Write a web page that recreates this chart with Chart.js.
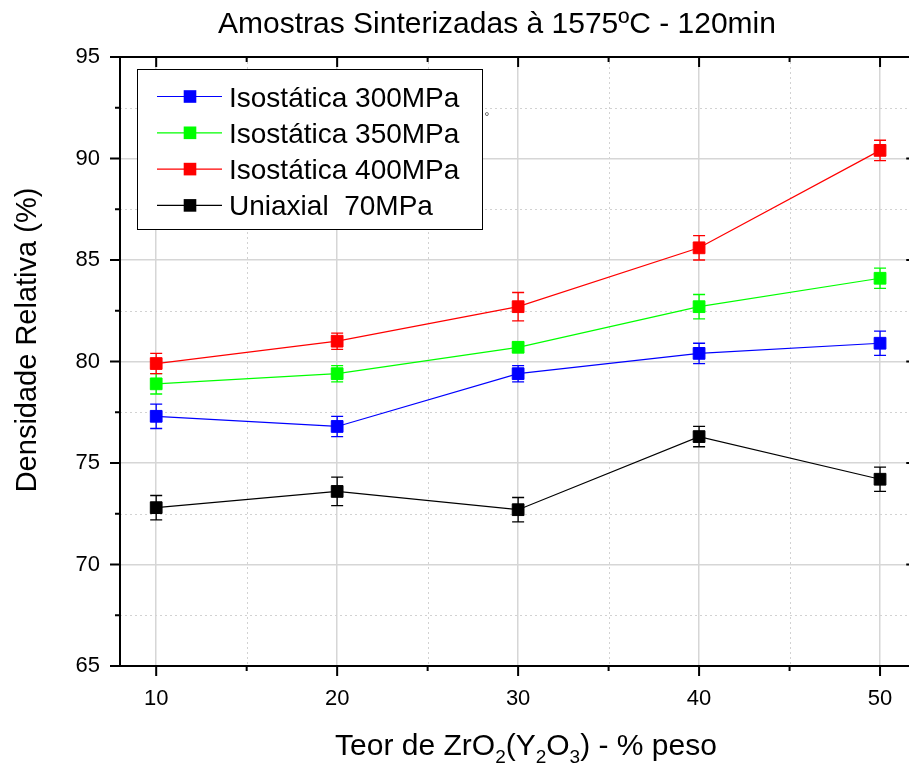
<!DOCTYPE html>
<html>
<head>
<meta charset="utf-8">
<script src="https://cdn.jsdelivr.net/npm/chart.js@4/dist/chart.umd.min.js"></script>
<style>
  html, body { margin: 0; padding: 0; background: #fff; overflow: hidden; }
  #c { display: block; }
</style>
</head>
<body>
<canvas id="c" width="909" height="765"></canvas>
<script>
// ZrO2(Y2O3) content, % weight
const categories = [10, 20, 30, 40, 50];

// Relative density (%) and its error for each pressing route
const iso300 = [77.3, 76.8, 79.4, 80.4, 80.9];
const iso300Err = [0.6, 0.5, 0.4, 0.5, 0.6];
const iso350 = [78.9, 79.4, 80.7, 82.7, 84.1];
const iso350Err = [0.5, 0.4, 0.25, 0.6, 0.5];
const iso400 = [79.9, 81.0, 82.7, 85.6, 90.4];
const iso400Err = [0.5, 0.4, 0.7, 0.6, 0.5];
const uni70 = [72.8, 73.6, 72.7, 76.3, 74.2];
const uni70Err = [0.6, 0.7, 0.6, 0.5, 0.6];

const seriesLabels = ['Isostática 300MPa', 'Isostática 350MPa', 'Isostática 400MPa', 'Uniaxial  70MPa'];
const seriesColors = ['#0000ff', '#00ff00', '#ff0000', '#000000'];

// Tick positions (major every 10 / 5, minor halfway)
const xTickValues = [10, 15, 20, 25, 30, 35, 40, 45, 50];
const yTickValues = [65, 67.5, 70, 72.5, 75, 77.5, 80, 82.5, 85, 87.5, 90, 92.5, 95];

// visible x window; the frame's right side sits at 52, just past the edge
const xMin = 8, xMax = 51.6, xFrameRight = 52;

const chartTitle = 'Amostras Sinterizadas à 1575ºC - 120min';
const yTitle = 'Densidade Relativa (%)';

const FONT = '"Liberation Sans", Arial, Helvetica, sans-serif';
const isMajorX = v => v % 10 === 0;
const isMajorY = v => v % 5 === 0;

function makeSet(label, color, vals, errs) {
  return {
    label,
    data: categories.map((c, i) => ({ x: c, y: vals[i] })),
    errors: errs,
    borderColor: color,
    backgroundColor: color,
    borderWidth: 1.2,
    pointStyle: 'rect',
    pointRadius: 8.3,
    pointBorderWidth: 1,
    pointBorderColor: color,
    pointBackgroundColor: color,
    pointHoverRadius: 8.3,
    tension: 0
  };
}

const datasets = [
  makeSet(seriesLabels[0], seriesColors[0], iso300, iso300Err),
  makeSet(seriesLabels[1], seriesColors[1], iso350, iso350Err),
  makeSet(seriesLabels[2], seriesColors[2], iso400, iso400Err),
  makeSet(seriesLabels[3], seriesColors[3], uni70, uni70Err)
];

// Minor dotted grid and error bars, drawn under the markers
const underlay = {
  id: 'underlay',
  beforeDatasetsDraw(chart) {
    const { ctx, chartArea: a, scales: { x, y } } = chart;
    ctx.save();
    ctx.beginPath();
    ctx.rect(a.left, a.top, a.width, a.height);
    ctx.clip();
    ctx.strokeStyle = '#d2d2d2';
    ctx.lineWidth = 1;
    ctx.setLineDash([2, 3]);
    xTickValues.filter(v => !isMajorX(v)).forEach(v => {
      const p = Math.round(x.getPixelForValue(v)) + 0.5;
      ctx.beginPath(); ctx.moveTo(p, a.top); ctx.lineTo(p, a.bottom); ctx.stroke();
    });
    yTickValues.filter(v => !isMajorY(v)).forEach(v => {
      const p = Math.round(y.getPixelForValue(v)) + 0.5;
      ctx.beginPath(); ctx.moveTo(a.left, p); ctx.lineTo(a.right, p); ctx.stroke();
    });
    ctx.setLineDash([]);
    ctx.restore();

    // error bars
    ctx.save();
    chart.data.datasets.forEach(ds => {
      ctx.strokeStyle = ds.borderColor;
      ctx.lineWidth = 1.3;
      ds.data.forEach((pt, j) => {
        const e = ds.errors[j];
        const px = x.getPixelForValue(pt.x);
        const top = y.getPixelForValue(pt.y + e);
        const bot = y.getPixelForValue(pt.y - e);
        const cap = 6;
        ctx.beginPath();
        ctx.moveTo(px, top); ctx.lineTo(px, bot);
        ctx.moveTo(px - cap, top); ctx.lineTo(px + cap, top);
        ctx.moveTo(px - cap, bot); ctx.lineTo(px + cap, bot);
        ctx.stroke();
      });
    });
    ctx.restore();
  }
};

// Frame, tick marks, legend box and text labels
const overlay = {
  id: 'overlay',
  afterDraw(chart) {
    const { ctx, chartArea: a, scales: { x, y } } = chart;
    const right = x.getPixelForValue(xFrameRight);
    ctx.save();
    ctx.strokeStyle = '#000';
    ctx.lineWidth = 2;
    ctx.beginPath();
    ctx.moveTo(a.left, a.top); ctx.lineTo(right, a.top);
    ctx.lineTo(right, a.bottom); ctx.lineTo(a.left, a.bottom); ctx.closePath();
    ctx.stroke();

    ctx.lineWidth = 2;
    xTickValues.forEach(v => {
      const p = x.getPixelForValue(v);
      const len = isMajorX(v) ? 10 : 5;
      ctx.beginPath();
      ctx.moveTo(p, a.bottom); ctx.lineTo(p, a.bottom + len);
      ctx.moveTo(p, a.top); ctx.lineTo(p, a.top + len);
      ctx.stroke();
    });
    yTickValues.forEach(v => {
      const p = y.getPixelForValue(v);
      const len = isMajorY(v) ? 10 : 5;
      ctx.beginPath();
      ctx.moveTo(a.left, p); ctx.lineTo(a.left - len, p);
      ctx.moveTo(right, p); ctx.lineTo(right - len, p);
      ctx.stroke();
    });

    // legend
    const lx = 137.5, ly = 69.5, lw = 345, lh = 160;
    ctx.fillStyle = '#fff';
    ctx.fillRect(lx, ly, lw, lh);
    ctx.lineWidth = 1;
    ctx.strokeStyle = '#000';
    ctx.strokeRect(lx, ly, lw, lh);
    ctx.font = '28px ' + FONT;
    ctx.textAlign = 'left';
    ctx.textBaseline = 'alphabetic';
    chart.data.datasets.forEach((ds, i) => {
      const ry = 96.5 + i * 36.3;
      ctx.strokeStyle = ds.borderColor;
      ctx.lineWidth = 1.2;
      ctx.beginPath(); ctx.moveTo(157, ry); ctx.lineTo(222, ry); ctx.stroke();
      ctx.fillStyle = ds.backgroundColor;
      ctx.fillRect(190 - 6.3, ry - 6.3, 12.6, 12.6);
      ctx.fillStyle = '#000';
      ctx.fillText(ds.label, 229, ry + 10);
    });
    ctx.fillStyle = '#333';
    ctx.font = '12px ' + FONT;
    ctx.fillText('°', lx + lw + 2, 121);

    // chart title
    ctx.fillStyle = '#000';
    ctx.font = '30px ' + FONT;
    ctx.textAlign = 'center';
    ctx.fillText(chartTitle, 497, 33);

    // y axis title
    ctx.save();
    ctx.translate(36, 340);
    ctx.rotate(-Math.PI / 2);
    ctx.font = '29px ' + FONT;
    ctx.textAlign = 'center';
    ctx.fillText(yTitle, 0, 0);
    ctx.restore();

    // x axis title with subscripts
    const parts = [
      ['Teor de ZrO', false], ['2', true], ['(Y', false], ['2', true],
      ['O', false], ['3', true], [') - % peso', false]
    ];
    const big = '30px ' + FONT, small = '19px ' + FONT;
    let total = 0;
    parts.forEach(([t, sub]) => { ctx.font = sub ? small : big; total += ctx.measureText(t).width; });
    let cx = 526 - total / 2;
    const base = 755;
    ctx.textAlign = 'left';
    parts.forEach(([t, sub]) => {
      ctx.font = sub ? small : big;
      ctx.fillText(t, cx, sub ? base + 8 : base);
      cx += ctx.measureText(t).width;
    });
    ctx.restore();
  }
};

new Chart(document.getElementById('c'), {
  type: 'line',
  data: { datasets },
  plugins: [underlay, overlay],
  options: {
    responsive: false,
    animation: false,
    events: [],
    layout: { autoPadding: false, padding: { left: 0, top: 57, right: 0, bottom: 0 } },
    plugins: { legend: { display: false }, title: { display: false }, tooltip: { enabled: false } },
    scales: {
      x: {
        type: 'linear',
        min: xMin,
        max: xMax,
        afterBuildTicks: s => { s.ticks = xTickValues.map(v => ({ value: v })); },
        afterFit: s => { s.height = 765 - 666; s.paddingLeft = 0; s.paddingRight = 0; },
        ticks: {
          callback: v => (isMajorX(v) ? String(v) : ''),
          color: '#000',
          font: { family: FONT, size: 22 },
          padding: 20,
          maxRotation: 0,
          autoSkip: false
        },
        grid: {
          color: c => (c.tick && isMajorX(c.tick.value) ? '#d6d6d6' : 'rgba(0,0,0,0)'),
          lineWidth: 1.5,
          drawTicks: false
        },
        border: { display: false }
      },
      y: {
        type: 'linear',
        min: 65,
        max: 95,
        afterBuildTicks: s => { s.ticks = yTickValues.map(v => ({ value: v })); },
        afterFit: s => { s.width = 120; s.paddingTop = 0; s.paddingBottom = 0; },
        ticks: {
          callback: v => (isMajorY(v) ? String(v) : ''),
          color: '#000',
          font: { family: FONT, size: 22 },
          padding: 20,
          autoSkip: false
        },
        grid: {
          color: c => (c.tick && isMajorY(c.tick.value) ? '#d6d6d6' : 'rgba(0,0,0,0)'),
          lineWidth: 1.5,
          drawTicks: false
        },
        border: { display: false }
      }
    }
  }
});
</script>
</body>
</html>
